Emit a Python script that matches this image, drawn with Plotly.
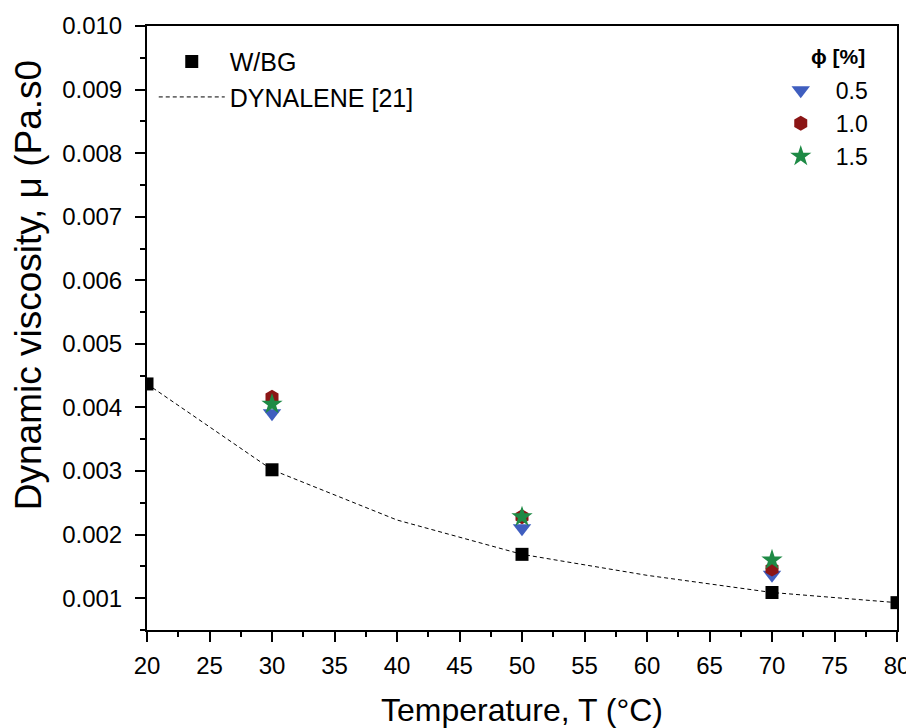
import plotly.graph_objects as go

# Data
temps_wbg = [20, 30, 50, 70, 80]
mu_wbg = [0.00437, 0.00302, 0.00169, 0.00109, 0.00093]

temps_dyn = [20, 30, 40, 50, 60, 70, 80]
mu_dyn = [0.00437, 0.00302, 0.00223, 0.00169, 0.00136, 0.00109, 0.00093]

temps_nf = [30, 50, 70]
mu_05 = [0.00391, 0.00210, 0.00137]
mu_10 = [0.00416, 0.00228, 0.00146]
mu_15 = [0.00405, 0.00228, 0.00160]

FONT = "Liberation Sans, Arial, sans-serif"

fig = go.Figure()

fig.add_trace(go.Scatter(x=temps_dyn, y=mu_dyn, mode="lines", name="DYNALENE [21]",
                         line=dict(color="black", width=1, dash="4px,3px"), legend="legend",
                         legendrank=2))
fig.add_trace(go.Scatter(x=temps_wbg, y=mu_wbg, mode="markers", name="W/BG",
                         marker=dict(symbol="square", size=13, color="black"), legend="legend",
                         legendrank=1))
fig.add_trace(go.Scatter(x=temps_nf, y=mu_05, mode="markers", name="0.5",
                         marker=dict(symbol="triangle-down", size=16, color="#3F5EBF"), legend="legend2"))
fig.add_trace(go.Scatter(x=temps_nf, y=mu_10, mode="markers", name="1.0",
                         marker=dict(symbol="hexagon", size=15, color="#8B1515"), legend="legend2"))
fig.add_trace(go.Scatter(x=temps_nf, y=mu_15, mode="markers", name="1.5",
                         marker=dict(symbol="star", size=16, color="#1E8A45"), legend="legend2"))

fig.update_layout(
    width=906, height=720,
    margin=dict(l=139, r=17, t=18, b=98),
    paper_bgcolor="white", plot_bgcolor="white",
    font=dict(family=FONT, size=24, color="black"),
    legend=dict(x=0.009, y=0.979, xanchor="left", yanchor="top", bgcolor="rgba(0,0,0,0)",
                font=dict(size=25), itemwidth=66, tracegroupgap=0),
    legend2=dict(x=0.825, y=0.929, xanchor="left", yanchor="top", bgcolor="rgba(0,0,0,0)",
                 font=dict(size=23), itemwidth=60),
    showlegend=True,
    annotations=[
        dict(text="Dynamic viscosity, μ (Pa.s0", xref="paper", yref="paper",
             x=-0.158, y=0.57, xanchor="center", yanchor="middle",
             textangle=-90, showarrow=False, font=dict(size=37)),
        dict(text="<b>ϕ [%]</b>", xref="paper", yref="paper",
             x=0.921, y=0.9487, xanchor="center", yanchor="middle",
             showarrow=False, font=dict(size=21)),
    ],
)

fig.update_xaxes(
    range=[20, 80], dtick=5, tick0=20, automargin=False,
    showline=True, linecolor="black", linewidth=2, mirror=True,
    ticks="outside", ticklen=10, tickwidth=2, tickcolor="black",
    minor=dict(dtick=2.5, ticks="outside", ticklen=5, tickwidth=2, tickcolor="black"),
    showgrid=False, zeroline=False, ticklabelstandoff=3,
    tickfont=dict(size=24),
    title=dict(text="Temperature, T (°C)", font=dict(size=32), standoff=26),
)
fig.update_yaxes(
    range=[0.0005, 0.0100001], dtick=0.001, tick0=0, tickformat=".3f", automargin=False,
    showline=True, linecolor="black", linewidth=2, mirror=True,
    ticks="outside", ticklen=10, tickwidth=2, tickcolor="black",
    minor=dict(dtick=0.0005, ticks="outside", ticklen=5, tickwidth=2, tickcolor="black"),
    showgrid=False, zeroline=False, ticklabelstandoff=8,
    tickfont=dict(size=24),
)

fig.write_html("out.html")
